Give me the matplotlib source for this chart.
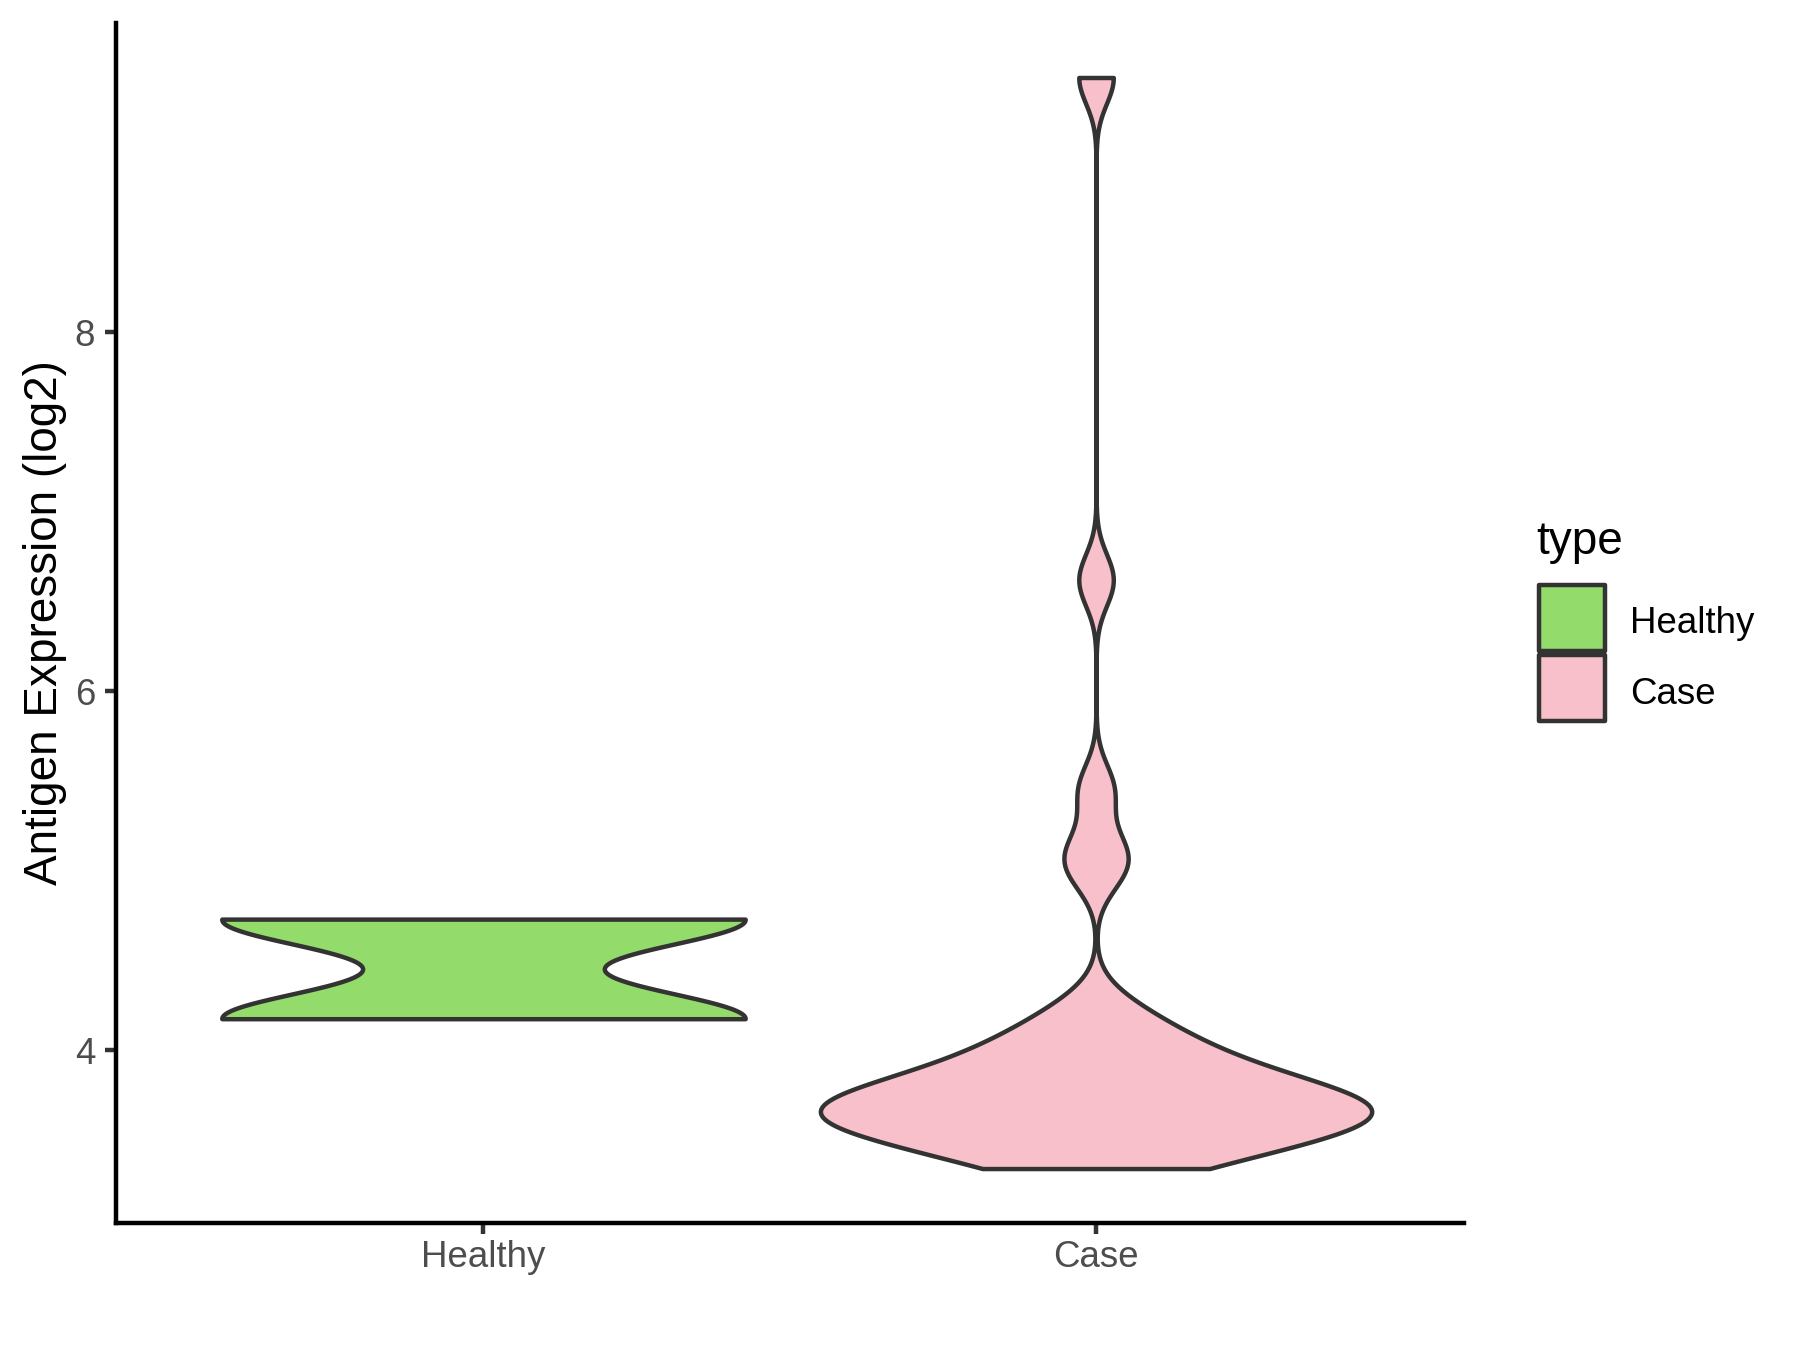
import matplotlib
matplotlib.use("Agg")
import matplotlib.pyplot as plt
from matplotlib.patches import Rectangle
import numpy as np

# data
groups = ["Healthy", "Case"]
healthy_vals = [4.175, 4.73]
case_vals = [3.34, 3.35, 3.43, 3.44, 3.46, 3.53, 3.54, 3.55, 3.56,
             3.62, 3.63, 3.64, 3.64, 3.65, 3.67, 3.72, 3.73, 3.74, 3.75, 3.76,
             3.83, 3.84, 3.86, 3.93, 3.95, 4.03, 4.05, 4.14, 4.24,
             5.00, 5.12, 5.45, 6.62, 9.42]
fill_colors = ["#93DB6A", "#F8C0CB"]
y_ticks = [4, 6, 8]

plt.rcParams['font.family'] = ['Liberation Sans', 'DejaVu Sans']

def bw_nrd0(x):
    x = np.asarray(x)
    hi = np.std(x, ddof=1)
    q75, q25 = np.percentile(x, [75, 25])
    lo = min(hi, (q75 - q25) / 1.34)
    return 0.9 * lo * len(x) ** -0.2

def trimmed_density(x, n=512):
    x = np.asarray(x)
    h = bw_nrd0(x)
    grid = np.linspace(x.min(), x.max(), n)
    z = (grid[:, None] - x[None, :]) / h
    dens = np.exp(-0.5 * z ** 2).sum(axis=1) / (len(x) * h * np.sqrt(2 * np.pi))
    return grid, dens

dens = [trimmed_density(v) for v in (healthy_vals, case_vals)]
dmax = max(d.max() for _, d in dens)

fig = plt.figure(figsize=(6, 4.5), dpi=300)
ax = fig.add_axes([0.0644, 0.094, 0.7487, 0.889])

lw = 1.07
for i, (grid, d) in enumerate(dens):
    pos = i + 1
    half = 0.45 * d / dmax
    ax.fill_betweenx(grid, pos - half, pos + half, facecolor=fill_colors[i],
                     edgecolor="#333333", linewidth=lw, joinstyle="round")

all_vals = np.concatenate([healthy_vals, case_vals])
rng = all_vals.max() - all_vals.min()
ax.set_ylim(all_vals.min() - 0.05 * rng, all_vals.max() + 0.05 * rng)
ax.set_xlim(0.4, 2.6)
ax.set_xticks([1, 2])
ax.set_xticklabels(groups)
ax.set_yticks(y_ticks)
ax.set_yticklabels([str(t) for t in y_ticks])

for s in ["top", "right"]:
    ax.spines[s].set_visible(False)
for s in ["left", "bottom"]:
    ax.spines[s].set_linewidth(lw)
    ax.spines[s].set_color("black")
ax.tick_params(direction="out", length=2.75, width=lw, color="#333333",
               labelcolor="#4D4D4D", labelsize=8.8, pad=2.2)
ax.tick_params(axis="x", pad=1.4)

ax.set_ylabel("Antigen Expression (log2)", fontsize=11, color="black")
ax.yaxis.set_label_coords(-0.036, 0.5)

# legend drawn like ggplot's guide
fig.text(0.8533, 0.590, "type", fontsize=11, ha="left", va="baseline")
key_x, key_w, key_h = 0.855, 0.03667, 0.0489
for i, (lab, y0, yc) in enumerate(zip(groups, [0.5178, 0.4659], [0.5385, 0.4853])):
    fig.add_artist(Rectangle((key_x, y0), key_w, key_h, transform=fig.transFigure,
                             facecolor=fill_colors[i], edgecolor="#333333",
                             linewidth=lw, joinstyle="round"))
    fig.text(0.9056, yc, lab, fontsize=8.8, ha="left", va="center")

fig.savefig("out.png", dpi=300)
